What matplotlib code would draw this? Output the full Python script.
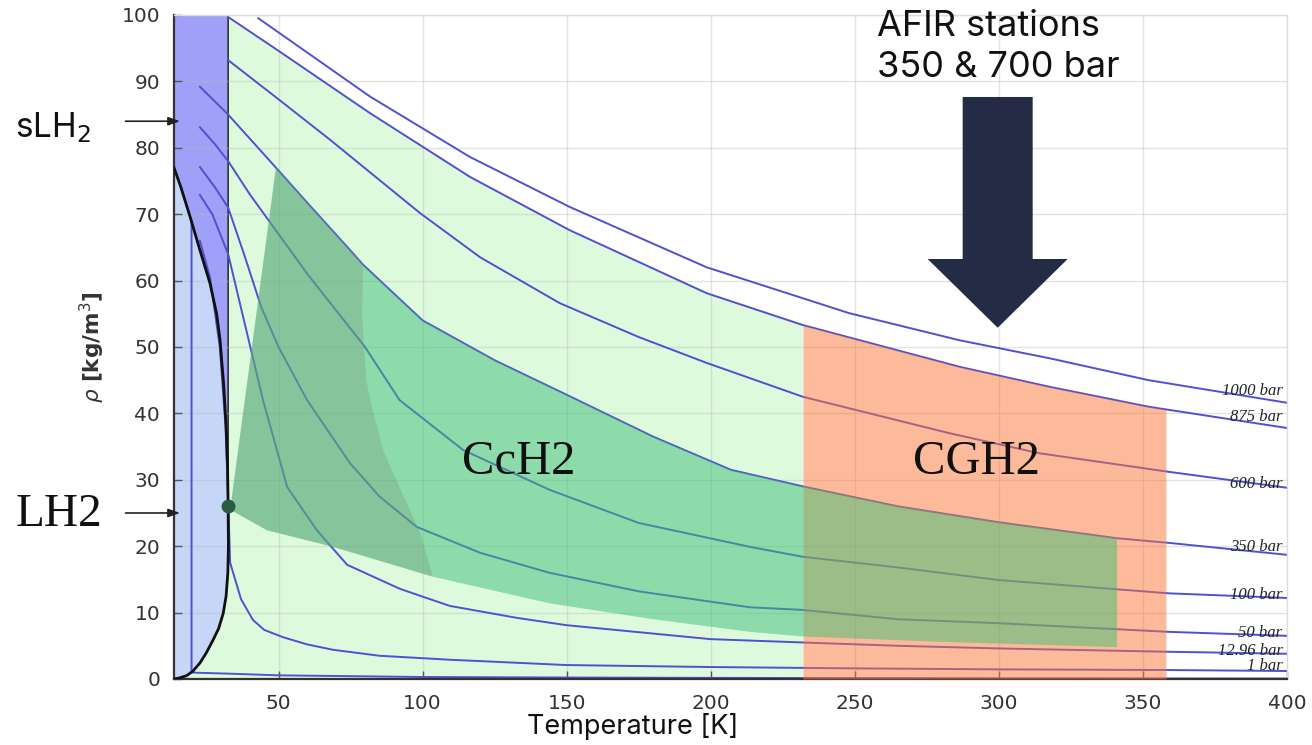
import numpy as np
import matplotlib.pyplot as plt
from matplotlib.patches import FancyArrow

# isobars, T in K, rho in kg/m3
p1_T = [19.8, 19.8, 21, 25, 33, 50, 100, 150, 200, 250, 300, 350, 400]
p1_rho = [69.0, 1.0, 0.95, 0.9, 0.8, 0.55, 0.3, 0.22, 0.17, 0.13, 0.1, 0.08, 0.07]

p13_T = [22.7, 26.2, 29.6, 31.6, 32.5, 33.2, 37, 41.1, 45, 51.5, 60, 68.9, 85, 109.5,
         150, 200, 250, 300, 359, 400]
p13_rho = [66, 60.5, 50, 38, 27, 17.5, 12, 8.9, 7.4, 6.3, 5.2, 4.4, 3.5, 2.9,
           2.1, 1.8, 1.6, 1.45, 1.35, 1.2]

p50_T = [22.7, 27, 32.5, 38, 44.6, 53, 63.3, 73.8, 92, 100, 109.5, 132.8, 150, 200,
         232, 265, 300, 359, 400]
p50_rho = [72.9, 70, 64, 54, 42, 28.9, 22.4, 17.2, 13.6, 12.4, 11.0, 9.2, 8.1, 6.0,
           5.5, 5.0, 4.6, 4.1, 3.8]

p100_T = [22.7, 28, 32.5, 38, 44, 50, 59.9, 74.8, 85, 98, 120, 144, 175, 213.6, 232,
          265, 300, 359, 400]
p100_rho = [77.1, 74, 71, 64, 56, 50, 42, 32.5, 27.5, 22.9, 19, 16, 13.2, 10.8, 10.4,
            9.0, 8.4, 7.1, 6.5]

p200_T = [22.7, 28, 32.5, 40, 50, 60, 70, 80, 92, 114, 144, 175, 213.6, 232, 265, 300,
          359, 400]
p200_rho = [83.1, 80.5, 78, 73, 67, 61, 55.5, 50, 42, 34.5, 28.5, 23.5, 19.9, 18.4,
            16.8, 14.9, 12.9, 12.2]

p350_T = [22.7, 32.5, 49.1, 60, 74.8, 79.3, 100, 125, 150, 180, 207, 232, 265, 300,
          341, 359, 400]
p350_rho = [89.2, 85, 77, 71.7, 64.6, 62.4, 54, 48, 42.8, 36.5, 31.5, 29, 26, 23.6,
            21.2, 20.5, 18.7]

p600_T = [32.5, 50, 67.9, 99, 120, 147.6, 175, 198.6, 232, 283, 314, 359, 400]
p600_rho = [93.2, 87.3, 81.2, 70.2, 63.5, 56.6, 51.5, 47.6, 42.5, 37, 34, 31.2, 28.8]

p875_T = [32.5, 50, 81.8, 116.5, 151, 198.6, 232, 286.5, 317.6, 352, 400]
p875_rho = [99.7, 94.6, 85.2, 75.6, 67.6, 58.1, 53.3, 47, 44, 41, 37.8]

p1000_T = [43, 81.8, 116.5, 151, 198.6, 248, 286.5, 317.6, 352, 400]
p1000_rho = [99.5, 87.7, 78.6, 71.1, 62, 55.1, 51, 48.3, 45, 41.6]

isobars = [(p1_T, p1_rho), (p13_T, p13_rho), (p50_T, p50_rho), (p100_T, p100_rho),
           (p200_T, p200_rho), (p350_T, p350_rho), (p600_T, p600_rho),
           (p875_T, p875_rho), (p1000_T, p1000_rho)]

# labels at the right end (as placed in the figure)
lab_text = ["1000 bar", "875 bar", "600 bar", "350 bar", "100 bar", "50 bar",
            "12.96 bar", "1 bar"]
lab_rho = [43.4, 39.5, 29.4, 19.9, 12.65, 7.0, 4.2, 1.96]

# saturation dome
liq_T = [13.7, 16, 19.3, 22.7, 26.2, 28.5, 29.7, 31.0, 31.8, 32.3, 32.5]
liq_rho = [77, 74.2, 69.6, 64.6, 59.6, 55, 51, 44, 38, 32, 26]
vap_T = [32.5, 32.6, 32.4, 31.8, 30.8, 29.2, 27.3, 25, 22.7, 20.3, 18.1, 15.5, 13.7]
vap_rho = [26, 20, 16, 12.5, 9.9, 7.6, 5.9, 4.0, 2.4, 1.2, 0.5, 0.15, 0.0]
crit_T, crit_rho = 32.5, 26

# CcH2 region: top = 350 bar isobar, bottom edge below
cc_T0, cc_T1 = 49.1, 341
cc_bot_T = [33.2, 46, 68.9, 103.6, 144, 180, 213.6, 232, 280, 341]
cc_bot_rho = [25.5, 22.4, 19.9, 15.4, 11.4, 9.0, 7.1, 6.4, 5.6, 4.8]

dk_T = [33.2, 49.1, 60, 74.8, 79.3, 79.0, 80.5, 81.8, 86.3, 89.8, 99.2, 103.6, 68.9, 46]
dk_rho = [25.5, 77, 71.7, 64.6, 62.4, 54.5, 45, 42, 34.5, 31, 22, 15.4, 19.9, 22.4]

# CGH2 region
cg_T0, cg_T1 = 232, 358
Tmin, Tmax = 13.7, 400

fig = plt.figure(figsize=(13.12, 7.45), dpi=100)
ax = fig.add_axes([0.1326, 0.0886, 0.8483, 0.8913])
ax.set_xlim(Tmin, Tmax)
ax.set_ylim(0, 100)

# light green: gas/supercritical area up to 875 bar
g_T = vap_T[::-1] + [32.5] + [t for t in p875_T if t <= cg_T0] + [cg_T0]
g_rho = vap_rho[::-1] + [100] + [r for t, r in zip(p875_T, p875_rho) if t <= cg_T0] + [0]
ax.fill(g_T, g_rho, color='#ddfadd', lw=0, zorder=1)

# blue: two-phase dome and liquid/solid strip
ax.fill(liq_T + vap_T, liq_rho + vap_rho, color='#c6d6f7', lw=0, zorder=1)
ax.fill([Tmin, 32.5] + liq_T[::-1], [100, 100] + liq_rho[::-1],
        facecolor='#a0a0f8', edgecolor='#333333', lw=1.2, zorder=1)

ax.grid(True, color='#bbbbbb', alpha=0.4, lw=1)
ax.set_axisbelow('line')

for T, rho in isobars:
    ax.plot(T, rho, color='#5050d2', lw=1.4, zorder=2)

# orange CGH2 block
o_T = np.linspace(cg_T0, cg_T1, 30)
o_top = np.interp(o_T, p875_T, p875_rho)
ax.fill_between(o_T, 0, o_top, color='#fb7737', alpha=0.5, lw=0, zorder=3)

# green CcH2 block
top_T = [t for t in p350_T if cc_T0 <= t <= cc_T1]
top_rho = [r for t, r in zip(p350_T, p350_rho) if cc_T0 <= t <= cc_T1]
ax.fill(top_T + cc_bot_T[::-1], top_rho + cc_bot_rho[::-1],
        color='#3ebe78', alpha=0.5, lw=0, zorder=3)
ax.fill(dk_T, dk_rho, color='#7a9680', alpha=0.32, lw=0, zorder=3)

# saturation line and critical point
ax.plot(liq_T + vap_T, liq_rho + vap_rho, color='#111111', lw=2, zorder=4)
ax.plot([crit_T], [crit_rho], 'o', color='#2b5c42', ms=9, zorder=5)

for txt, r in zip(lab_text, lab_rho):
    ax.text(398.5, r, txt, ha='right', va='center', fontsize=12, style='italic',
            family='Liberation Serif', color='#222222', zorder=6)

ax.text(133.4, 32.7, "CcH2", ha='center', va='center', fontsize=35,
        family='Liberation Serif', color='#111111', zorder=6)
ax.text(292.2, 32.7, "CGH2", ha='center', va='center', fontsize=35,
        family='Liberation Serif', color='#111111', zorder=6)

ax.add_patch(FancyArrow(299.6, 87.65, 0, -34.75, width=24.3, head_width=48.6,
                        head_length=10.35, length_includes_head=True,
                        color='#232b45', lw=0, zorder=7))

fig.text(877 / 1312, 1 - 10 / 745, "AFIR stations\n350 & 700 bar", ha='left', va='top',
         fontsize=26, family='Inter', color='#111111', linespacing=1.3)

fig.text(15 / 1312, 1 - 128 / 745, "sLH$_2$", ha='left', va='center', fontsize=24,
         family='Inter', color='#111111')
fig.text(16 / 1312, 1 - 515 / 745, "LH2", ha='left', va='center', fontsize=34,
         family='Liberation Serif', color='#111111')

arrow_kw = dict(arrowstyle='-|>,head_length=0.7,head_width=0.25', color='#222222', lw=1.2)
ax.annotate('', xy=(16.8, 84), xytext=(-0.046, 84), textcoords=ax.get_yaxis_transform(),
            arrowprops=arrow_kw, annotation_clip=False, zorder=8)
ax.annotate('', xy=(16.8, 25), xytext=(-0.046, 25), textcoords=ax.get_yaxis_transform(),
            arrowprops=arrow_kw, annotation_clip=False, zorder=8)

ax.set_xticks(range(50, 401, 50))
ax.set_yticks(range(0, 101, 10))
ax.tick_params(direction='in', length=6, width=1, color='#555555', labelsize=14.5,
               labelcolor='#333333')
ax.tick_params(axis='x', pad=11)
ax.tick_params(axis='y', pad=10)

for s in ['left', 'bottom']:
    ax.spines[s].set_color('#333333')
    ax.spines[s].set_linewidth(1.6)
for s in ['top', 'right']:
    ax.spines[s].set_color('#dddddd')
    ax.spines[s].set_linewidth(1)

ax.set_ylabel(r"$\rho$ [kg/m$^3$]", fontsize=15.5, fontweight='bold', color='#333333')
ax.yaxis.set_label_coords(-0.06, 0.5)
ax.set_xlabel("Temperature [K]", fontsize=19.5, family='Inter', color='#111111', va='center')
ax.xaxis.set_label_coords(0.412, -0.072)

fig.savefig("out.png", dpi=100)
